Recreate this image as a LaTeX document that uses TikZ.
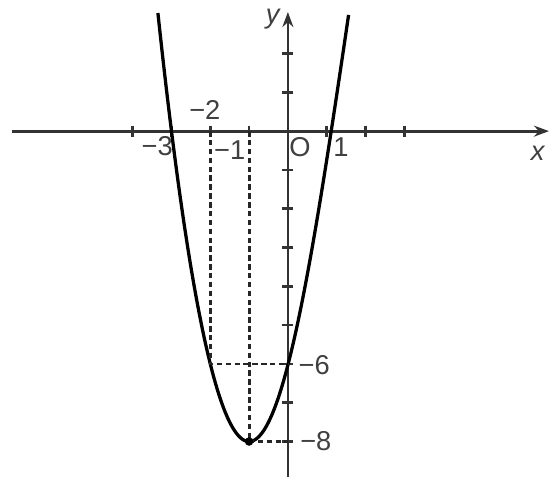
\documentclass[tikz,border=0pt]{standalone}
\usepackage{fontspec}
\setmainfont{Liberation Sans}
\usepackage{tikz}
\usetikzlibrary{arrows.meta,positioning,calc}

\begin{document}
\begin{tikzpicture}[
    axis/.style={line width=2pt, black!80, -{Stealth[length=11pt,width=8pt]}},
    tick/.style={line width=2pt, black!80},
    curve/.style={line width=2.4pt, black},
    guide/.style={line width=2.1pt, black!85, dash pattern=on 4pt off 2.5pt},
    lbl/.style={font=\fontsize{20}{24}\selectfont, text=black!75, inner sep=0pt}
  ]
  \useasboundingbox (-7.42,-8.92) rectangle (6.73,3.38);

  % --- axes ---
  \coordinate (O) at (0,0);
  \coordinate (xl) at (-7.12,0);
  \coordinate (xr) at (6.73,0);
  \coordinate (yb) at (0,-8.92);
  \coordinate (yt) at (0,3.07);
  \draw[axis] (xl) -- (xr);
  \draw[axis] (yb) -- (yt);

  % ticks
  \foreach \t in {-4,-3,-2,-1,1,2,3}
    \draw[tick] (\t,0.14) -- (\t,-0.14);
  \foreach \t in {-8,...,-1,1,2}
    \draw[tick] (0.14,\t) -- (-0.14,\t);

  % --- parabola y = 2x^2 + 4x - 6 (right arm drawn a little wider, as in the figure) ---
  \draw[curve, smooth]
    plot[domain=-3.35:-1, samples=70] (\x, {2*\x*\x+4*\x-6})
    -- plot[domain=-1:1.345, samples=70]
      ({\x+0.22*((2*\x*\x+4*\x+2)/11)^2}, {2*\x*\x+4*\x-6});

  % --- guide lines ---
  \coordinate (xm2) at (-2,0);
  \coordinate (xm1) at (-1,0);
  \coordinate (pA) at (-2,-6);
  \coordinate (yA) at (0,-6);
  \coordinate (vtx) at (-1,-8);
  \coordinate (yV) at (0,-8);
  \draw[guide] (xm2) -- (pA) -- (yA);
  \draw[guide] (xm1) -- (vtx) -- (yV);
  \fill[black] (vtx) circle (0.11);

  % --- labels ---
  \node[lbl] (ly) at (-0.39,2.88) {\itshape y};
  \node[lbl] (lx) at (6.44,-0.57) {\itshape x};
  \node[lbl] (lO) at (0.31,-0.41) {O};
  \node[lbl] (l1) at (1.37,-0.41) {1};
  \node[lbl] (lm1) at (-1.50,-0.50) {−1};
  \node[lbl] (lm2) at (-2.14,0.54) {−2};
  \node[lbl] (lm3) at (-3.37,-0.39) {−3};
  \node[lbl] (lm6) at (0.68,-6.03) {−6};
  \node[lbl] (lm8) at (0.72,-8.0) {−8};
\end{tikzpicture}
\end{document}
